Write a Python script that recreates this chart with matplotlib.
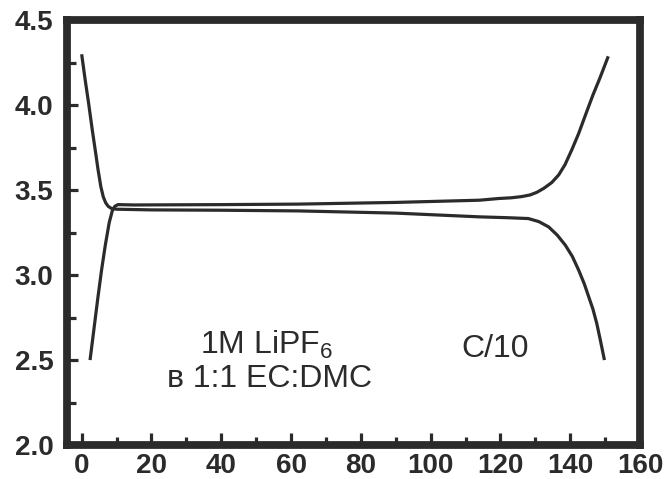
import matplotlib
matplotlib.use("Agg")
import matplotlib.pyplot as plt
from matplotlib.ticker import MultipleLocator

plt.rcParams['font.family'] = ['Liberation Sans', 'DejaVu Sans']
plt.rcParams['mathtext.fontset'] = 'custom'
plt.rcParams['mathtext.rm'] = 'Liberation Sans'

# Discharge curve (starts at 4.3 V, ends at 2.5 V)
discharge_x = [0, 1.0, 2.0, 3.0, 4.0, 4.7, 5.5, 6.2, 6.9, 7.6, 8.5, 10, 20, 40, 62, 90,
               114, 122, 128, 131, 133.8, 136.3, 138.6, 140.6, 142.4, 144, 145.3, 146.5,
               147.6, 148.7, 149.8]
discharge_y = [4.30, 4.15, 4.01, 3.86, 3.72, 3.62, 3.52, 3.46, 3.425, 3.405, 3.393, 3.388,
               3.384, 3.382, 3.378, 3.365, 3.343, 3.338, 3.333, 3.315, 3.284, 3.235, 3.176,
               3.11, 3.03, 2.95, 2.872, 2.80, 2.716, 2.61, 2.50]

# Charge curve (starts at 2.5 V, ends at 4.29 V)
charge_x = [2.4, 3.5, 4.6, 5.7, 6.8, 7.9, 8.8, 9.5, 10.4, 15, 40, 62, 90, 114, 119.5, 123,
            126, 128.5, 130.5, 132.5, 134.7, 136.7, 138.5, 140.5, 142.4, 144.5, 146.5,
            148.5, 150.9]
charge_y = [2.50, 2.68, 2.86, 3.03, 3.18, 3.31, 3.38, 3.405, 3.415, 3.413, 3.415, 3.418,
            3.428, 3.441, 3.451, 3.455, 3.462, 3.472, 3.488, 3.512, 3.545, 3.59, 3.65, 3.74,
            3.833, 3.95, 4.06, 4.16, 4.288]

x_ticks = [0, 20, 40, 60, 80, 100, 120, 140, 160]
y_ticks = [2.0, 2.5, 3.0, 3.5, 4.0, 4.5]
x_ticklabels = ['0', '20', '40', '60', '80', '100', '120', '140', '160']
y_ticklabels = ['2.0', '2.5', '3.0', '3.5', '4.0', '4.5']

dark = '#2b2b2b'

fig = plt.figure(figsize=(6.64, 4.79), dpi=100)
ax = fig.add_axes([0.1004, 0.071, 0.8635, 0.8866])

ax.plot(discharge_x, discharge_y, color=dark, lw=2.3, solid_capstyle='butt',
        solid_joinstyle='round')
ax.plot(charge_x, charge_y, color=dark, lw=2.3, solid_capstyle='butt',
        solid_joinstyle='round')

ax.set_xlim(-4.3, 160)
ax.set_ylim(2.0, 4.5)

ax.set_xticks(x_ticks)
ax.set_xticklabels(x_ticklabels)
ax.set_yticks(y_ticks)
ax.set_yticklabels(y_ticklabels)
ax.xaxis.set_minor_locator(MultipleLocator(10))
ax.yaxis.set_minor_locator(MultipleLocator(0.25))

for s in ax.spines.values():
    s.set_linewidth(5.6)
    s.set_color(dark)
    s.set_capstyle('projecting')

ax.tick_params(axis='both', which='both', direction='in', color=dark, width=2.3,
               top=False, right=False, labelcolor=dark)
ax.tick_params(axis='x', which='major', length=9, pad=6)
ax.tick_params(axis='x', which='minor', length=5.5)
ax.tick_params(axis='y', which='major', length=8, pad=9.5)
ax.tick_params(axis='y', which='minor', length=6.5)
for lab in ax.get_xticklabels() + ax.get_yticklabels():
    lab.set_fontsize(20)
    lab.set_fontweight('bold')

ax.text(52.9, 2.539, r'1M LiPF$_\mathregular{6}$', fontsize=23, color=dark,
        ha='center', va='baseline')
ax.text(53.8, 2.343, 'в 1:1 EC:DMC', fontsize=23, color=dark,
        ha='center', va='baseline')
ax.text(118.6, 2.519, 'C/10', fontsize=23, color=dark, ha='center', va='baseline')

fig.savefig('out.png', dpi=100)
